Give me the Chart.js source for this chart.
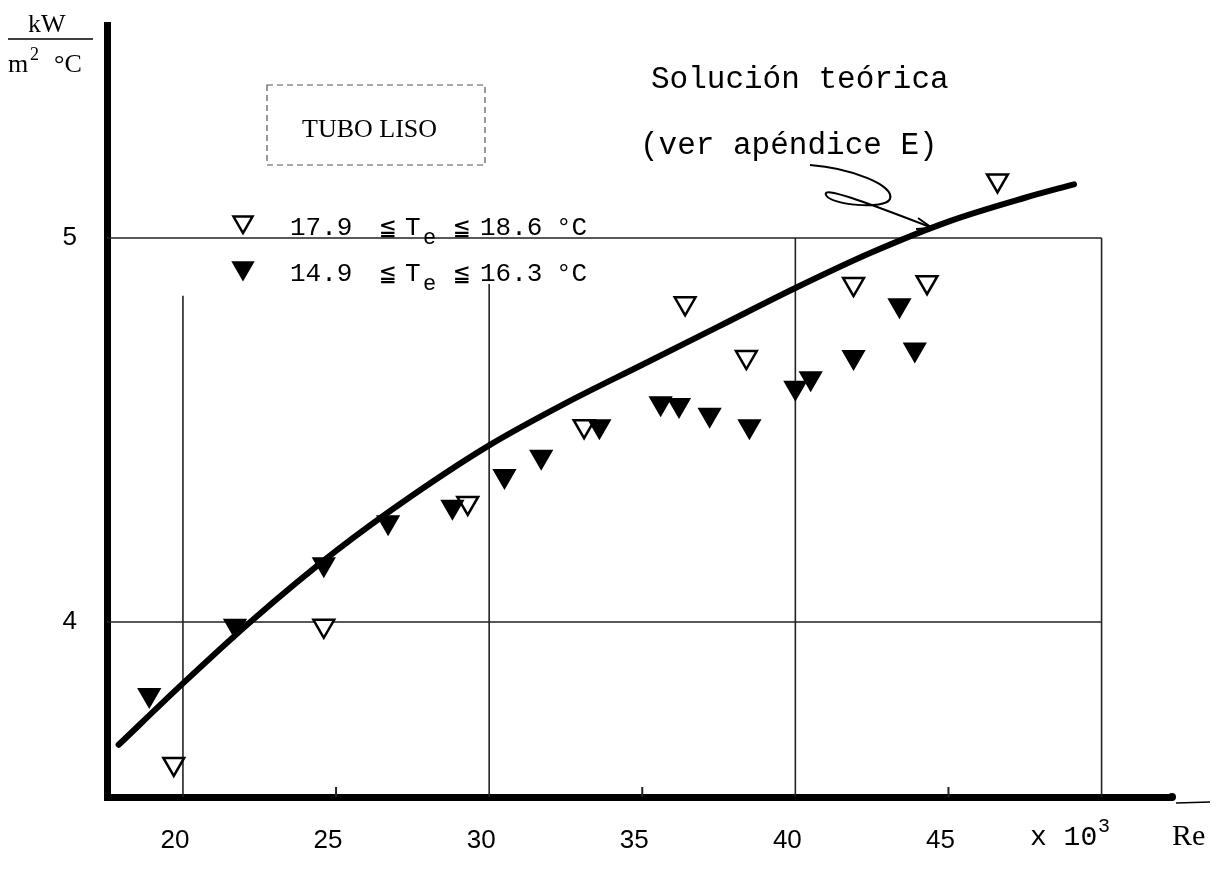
<!DOCTYPE html>
<html>
<head>
<meta charset="utf-8">
<script src="https://cdn.jsdelivr.net/npm/chart.js@4.4.1/dist/chart.umd.min.js"></script>
<style>
  html, body { margin: 0; padding: 0; background: #fff; }
  #wrap { width: 1222px; height: 870px; position: relative; }
</style>
</head>
<body>
<div id="wrap"><canvas id="chart"></canvas></div>
<script>
// Re (x 10^3) ticks and heat transfer coefficient ticks (kW/m2 °C)
const X_TICKS = [20, 25, 30, 35, 40, 45];
const X_MINOR = [25, 35, 45];
const Y_TICKS = [4, 5];

// boxed grid of the original sheet
const GRID_X = [20, 30, 40, 50];
const GRID_X_TOP = [4.85, 4.88, 5, 5];
const GRID_Y = [4, 5];
const GRID_Y_END = 50;

// theoretical solution (ver apéndice E)
const CURVE_RE = [17.9, 20, 22.2, 25, 27.5, 30, 32.5, 35, 37.5, 40, 42.5, 45, 47.5, 49.1];
const CURVE_H = [3.68, 3.84, 4.0, 4.185, 4.33, 4.46, 4.57, 4.67, 4.77, 4.87, 4.963, 5.043, 5.105, 5.14];

// 17.9 <= Te <= 18.6 °C (open triangles)
const OPEN_RE = [19.7, 24.6, 29.3, 33.1, 36.4, 38.4, 41.9, 44.3, 46.6];
const OPEN_H = [3.63, 3.99, 4.31, 4.51, 4.83, 4.69, 4.88, 4.885, 5.15];

// 14.9 <= Te <= 16.3 °C (filled triangles)
const FILLED_RE = [18.9, 21.7, 24.6, 26.7, 28.8, 30.5, 31.7, 33.6, 35.6, 36.2, 37.2, 38.5, 40.0, 40.5, 41.9, 43.4, 43.9];
const FILLED_H = [3.81, 3.99, 4.15, 4.26, 4.30, 4.38, 4.43, 4.51, 4.57, 4.565, 4.54, 4.51, 4.61, 4.635, 4.69, 4.825, 4.71];

const toPoints = (xs, ys) => xs.map((x, i) => ({ x: x, y: ys[i] }));

const MONO = '"Liberation Mono", "DejaVu Sans Mono", monospace';
const SERIF = '"Liberation Serif", "DejaVu Serif", serif';
const SANS = '"Liberation Sans", Arial, sans-serif';

function tri(ctx, x, y, r, filled) {
  ctx.beginPath();
  ctx.moveTo(x - r * 0.866, y - r * 0.5);
  ctx.lineTo(x + r * 0.866, y - r * 0.5);
  ctx.lineTo(x, y + r);
  ctx.closePath();
  ctx.fillStyle = filled ? "#000" : "#fff";
  ctx.fill();
  ctx.lineWidth = 2.5;
  ctx.strokeStyle = "#000";
  ctx.stroke();
}

function noScalePadding(scale) {
  scale.paddingTop = 0;
  scale.paddingBottom = 0;
  scale.paddingLeft = 0;
  scale.paddingRight = 0;
}

const gridPlugin = {
  id: "paperGrid",
  beforeDatasetsDraw(chart) {
    const { ctx, scales } = chart;
    const sx = scales.x, sy = scales.y;
    ctx.save();
    ctx.strokeStyle = "#222";
    ctx.lineWidth = 1.6;
    GRID_X.forEach((v, i) => {
      const px = sx.getPixelForValue(v);
      ctx.beginPath();
      ctx.moveTo(px, sy.getPixelForValue(sy.min));
      ctx.lineTo(px, sy.getPixelForValue(GRID_X_TOP[i]));
      ctx.stroke();
    });
    GRID_Y.forEach((v) => {
      const py = sy.getPixelForValue(v);
      ctx.beginPath();
      ctx.moveTo(sx.getPixelForValue(sx.min), py);
      ctx.lineTo(sx.getPixelForValue(GRID_Y_END), py);
      ctx.stroke();
    });
    // small upward ticks on the Re axis
    ctx.lineWidth = 2;
    X_MINOR.forEach((v) => {
      const px = sx.getPixelForValue(v);
      const py = sy.getPixelForValue(sy.min);
      ctx.beginPath();
      ctx.moveTo(px, py);
      ctx.lineTo(px, py - 10);
      ctx.stroke();
    });
    ctx.restore();
  },
  afterDraw(chart) {
    const ctx = chart.ctx;
    const area = chart.chartArea;
    ctx.save();
    ctx.fillStyle = "#000";
    ctx.strokeStyle = "#000";
    ctx.textBaseline = "alphabetic";

    // unit label kW / m2 °C
    ctx.font = "26px " + SERIF;
    ctx.textAlign = "left";
    ctx.fillText("kW", 28, 32);
    ctx.lineWidth = 1.5;
    ctx.beginPath(); ctx.moveTo(8, 39); ctx.lineTo(93, 39); ctx.stroke();
    ctx.fillText("m", 8, 72);
    ctx.font = "18px " + SERIF;
    ctx.fillText("2", 30, 60);
    ctx.font = "26px " + SERIF;
    ctx.fillText("°C", 54, 72);

    // arrow bulb at end of Re axis
    ctx.beginPath();
    ctx.arc(area.right, area.bottom, 4, 0, Math.PI * 2);
    ctx.fill();
    ctx.lineWidth = 1.5;
    ctx.beginPath(); ctx.moveTo(area.right + 4, area.bottom + 6); ctx.lineTo(1210, area.bottom + 5); ctx.stroke();

    // x 10^3 and Re
    ctx.font = "28px " + MONO;
    ctx.fillText("x 10", 1030, 845);
    ctx.font = "20px " + MONO;
    ctx.fillText("3", 1098, 832);
    ctx.font = "30px " + SERIF;
    ctx.fillText("Re", 1172, 845);

    // TUBO LISO dashed box
    ctx.setLineDash([6, 4]);
    ctx.lineWidth = 1.2;
    ctx.strokeStyle = "#555";
    ctx.strokeRect(267, 85, 218, 80);
    ctx.setLineDash([]);
    ctx.strokeStyle = "#000";
    ctx.font = "26px " + SERIF;
    ctx.fillText("TUBO LISO", 302, 137);

    // legend
    tri(ctx, 243, 222, 11, false);
    tri(ctx, 243, 268, 11, true);
    const legendRow = (y, a, b) => {
      ctx.font = "26px " + MONO;
      ctx.fillText(a, 290, y);
      ctx.fillText("≦", 380, y);
      ctx.fillText("T", 405, y);
      ctx.font = "22px " + MONO;
      ctx.fillText("e", 423, y + 9);
      ctx.font = "26px " + MONO;
      ctx.fillText("≦", 454, y);
      ctx.fillText(b, 480, y);
      ctx.fillText("°C", 556, y);
    };
    legendRow(235, "17.9", "18.6");
    legendRow(281, "14.9", "16.3");

    // curve annotation
    ctx.font = "31px " + MONO;
    ctx.fillText("Solución teórica", 651, 88);
    ctx.fillText("(ver apéndice E)", 640, 154);

    // hand drawn squiggle arrow
    ctx.lineWidth = 2;
    ctx.beginPath();
    ctx.moveTo(810, 165);
    ctx.bezierCurveTo(850, 168, 895, 185, 890, 199);
    ctx.bezierCurveTo(885, 210, 830, 205, 826, 195);
    ctx.bezierCurveTo(822, 186, 860, 200, 930, 227);
    ctx.stroke();
    ctx.beginPath();
    ctx.moveTo(918, 218); ctx.lineTo(932, 228); ctx.lineTo(916, 229);
    ctx.stroke();

    ctx.restore();
  },
};

const ctxEl = document.getElementById("chart");
new Chart(ctxEl, {
  type: "scatter",
  data: {
    datasets: [
      {
        label: "Solución teórica",
        data: toPoints(CURVE_RE, CURVE_H),
        showLine: true,
        borderColor: "#000",
        borderWidth: 6,
        borderCapStyle: "round",
        tension: 0.4,
        cubicInterpolationMode: "monotone",
        pointRadius: 0,
        order: 3,
      },
      {
        label: "17.9 ≦ Te ≦ 18.6 °C",
        data: toPoints(OPEN_RE, OPEN_H),
        pointStyle: "triangle",
        rotation: 180,
        radius: 12,
        backgroundColor: "#fff",
        borderColor: "#000",
        borderWidth: 2.5,
        order: 2,
      },
      {
        label: "14.9 ≦ Te ≦ 16.3 °C",
        data: toPoints(FILLED_RE, FILLED_H),
        pointStyle: "triangle",
        rotation: 180,
        radius: 12,
        backgroundColor: "#000",
        borderColor: "#000",
        borderWidth: 2,
        order: 1,
      },
    ],
  },
  options: {
    responsive: true,
    maintainAspectRatio: false,
    animation: false,
    layout: { padding: { top: 25, right: 50, left: 0, bottom: 0 } },
    plugins: {
      legend: { display: false },
      tooltip: { enabled: false },
    },
    scales: {
      x: {
        type: "linear",
        min: 17.52,
        max: 52.3,
        afterFit(scale) { scale.height = 73; noScalePadding(scale); },
        afterBuildTicks(scale) { scale.ticks = X_TICKS.map((v) => ({ value: v })); },
        grid: { display: false, drawTicks: false },
        border: { display: true, color: "#000", width: 7 },
        ticks: {
          color: "#000",
          padding: 28,
          labelOffset: -8,
          font: { family: SANS, size: 26 },
        },
      },
      y: {
        type: "linear",
        min: 3.544,
        max: 5.555,
        afterFit(scale) { scale.width = 107; noScalePadding(scale); },
        afterBuildTicks(scale) { scale.ticks = Y_TICKS.map((v) => ({ value: v })); },
        grid: { display: false, drawTicks: false },
        border: { display: true, color: "#000", width: 7 },
        ticks: {
          color: "#000",
          padding: 30,
          font: { family: SANS, size: 26 },
        },
      },
    },
  },
  plugins: [gridPlugin],
});
</script>
</body>
</html>
